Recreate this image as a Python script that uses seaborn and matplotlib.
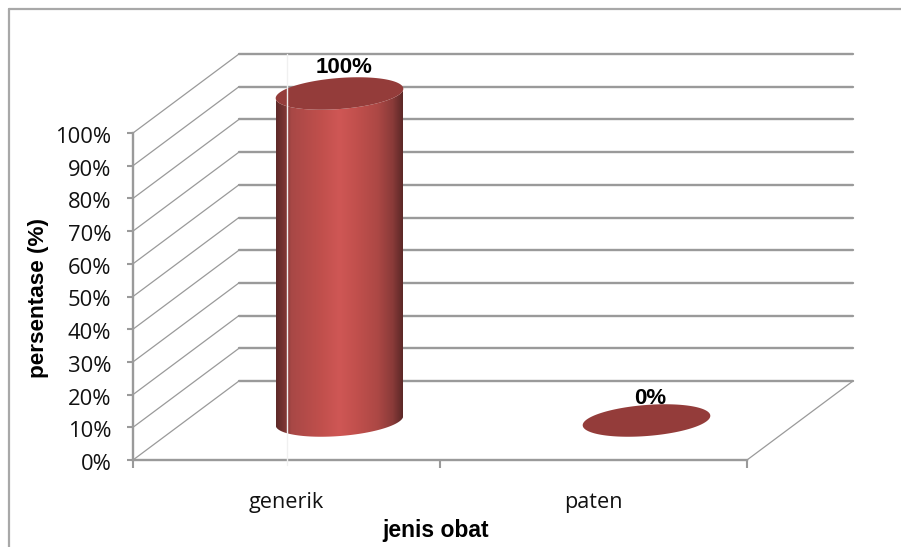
import numpy as np
import matplotlib
matplotlib.use("Agg")
import matplotlib.pyplot as plt
from matplotlib.colors import LinearSegmentedColormap
from matplotlib.lines import Line2D
from matplotlib.patches import Polygon
from matplotlib.transforms import ScaledTranslation
import seaborn as sns

categories = ["generik", "paten"]
percentages = [100, 0]
y_ticks = list(range(0, 101, 10))

W, H = 901, 547
LEFT, RIGHT, TOP, BOTTOM = 133, 747, 133, 460
UX = 2 / (RIGHT - LEFT)      # category units per pixel
UY = 100 / (BOTTOM - TOP)    # percent per pixel
DEPTH_X, DEPTH_Y = 106 * UX, 79 * UY
GRID = "#9a9a9a"
CAP = "#943c3a"

sns.set_style("white")
plt.rcParams["font.family"] = ["Open Sans", "DejaVu Sans"]

fig = plt.figure(figsize=(W / 100, H / 100), dpi=100, facecolor="white")
ax = fig.add_axes([LEFT / W, 1 - BOTTOM / H, (RIGHT - LEFT) / W, (BOTTOM - TOP) / H])
sns.barplot(x=categories, y=percentages, width=127 * UX, color=CAP, ax=ax, zorder=3)
ax.set_xlim(-0.5, 1.5)
ax.set_ylim(0, 100)
ax.set_facecolor("none")

# Back wall gridlines and the diagonals on the side wall
for v in y_ticks:
    ax.plot([-0.5 + DEPTH_X, 1.5 + DEPTH_X], [v + DEPTH_Y] * 2, color=GRID, lw=1.7,
            clip_on=False, zorder=1)
    ax.plot([-0.5, -0.5 + DEPTH_X], [v, v + DEPTH_Y], color=GRID, lw=0.9,
            clip_on=False, zorder=1)
# Right edge of the floor
ax.plot([1.5, 1.5 + DEPTH_X], [0, DEPTH_Y], color=GRID, lw=0.9, clip_on=False, zorder=1)

ramp = LinearSegmentedColormap.from_list(
    "cylinder",
    [(0.0, "#5e2a29"), (0.07, "#7c3533"), (0.12, "#a84846"), (0.35, "#c04f4c"), (0.5, "#cf5755"),
     (0.65, "#c04f4c"), (0.8, "#ad4845"), (0.92, "#8a3b39"), (1.0, "#5c2827")],
)
gradient = np.linspace(0, 1, 256)[None, :]

# Semi-axes and tilt of the elliptical cross-section, in pixels
SEMI_A, SEMI_B, TILT = 64.0, 15.5, np.radians(4.5)


def ellipse_points(cx, cy, t):
    px = SEMI_A * np.cos(t) * np.cos(TILT) - SEMI_B * np.sin(t) * np.sin(TILT)
    py = SEMI_A * np.cos(t) * np.sin(TILT) + SEMI_B * np.sin(t) * np.cos(TILT)
    return np.column_stack([cx + px * UX, cy + py * UY])


t_right = np.arctan(-(SEMI_B / SEMI_A) * np.tan(TILT))
lower_arc = np.linspace(t_right, t_right - np.pi, 80)
full_turn = np.linspace(0, 2 * np.pi, 160)

# Turn each seaborn bar into a cylinder standing mid-way through the depth
for bar in list(ax.patches):
    bar.set_visible(False)
    cx = bar.get_x() + bar.get_width() / 2 + DEPTH_X / 2
    base = DEPTH_Y / 2
    top = base + bar.get_height()
    half = bar.get_width() / 2
    if bar.get_height() > 0:
        body = np.vstack([ellipse_points(cx, base, lower_arc),
                          ellipse_points(cx, top, lower_arc[::-1])])
        clip = Polygon(body, closed=True, transform=ax.transData, facecolor="none", edgecolor="none")
        ax.add_patch(clip)
        img = ax.imshow(gradient, extent=[cx - half, cx + half, base - 10, top + 10], cmap=ramp,
                        aspect="auto", zorder=3)
        img.set_clip_path(clip)
        img.set_clip_box(fig.bbox)
    ax.add_patch(Polygon(ellipse_points(cx, top, full_turn), closed=True, facecolor=CAP,
                         edgecolor="none", clip_on=False, zorder=4))

ax.set_xlim(-0.5, 1.5)
ax.set_ylim(0, 100)

# Pale vertical hairline running through the first category
ax.plot([0, 0], [-5 * UY, 100 + DEPTH_Y], color="#f0f0f0", lw=1.0, clip_on=False, zorder=6)

# Value labels above each cylinder
label_offsets = [(4.5, 26.0), (3.5, 21.5)]
for i, value in enumerate(percentages):
    dx, dy = label_offsets[i]
    ax.annotate(f"{value}%", (i + DEPTH_X / 2, value + DEPTH_Y / 2),
                xytext=(dx * 0.72, dy * 0.72), textcoords="offset points",
                ha="center", va="center", family="Liberation Sans", fontweight="bold",
                fontsize=16, color="black", annotation_clip=False, zorder=7)

# Axes
sns.despine(ax=ax, top=True, right=True)
for side in ("left", "bottom"):
    ax.spines[side].set_color(GRID)
    ax.spines[side].set_linewidth(1.7)
    ax.spines[side].set_zorder(2)

ax.set_yticks(y_ticks)
ax.set_yticklabels([f"{v}%" for v in y_ticks])
ax.set_xticks([-0.5, 0.5, 1.5])
ax.set_xticklabels([])
ax.set_xticks([0, 1], labels=categories, minor=True)
ax.tick_params(axis="y", which="major", left=True, length=4.5, width=1.5, color=GRID,
               labelsize=15.8, labelcolor="#111111", pad=11)
ax.tick_params(axis="x", which="major", bottom=True, length=5.5, width=1.5, color=GRID)
ax.tick_params(axis="x", which="minor", bottom=False, length=0, labelsize=15.6,
               labelcolor="#111111", pad=23)

# Nudge the percent labels down so they sit level with their ticks
nudge = ScaledTranslation(0, -2 / 100, fig.dpi_scale_trans)
for tick_label in ax.get_yticklabels():
    tick_label.set_transform(tick_label.get_transform() + nudge)

ax.set_ylabel("persentase (%)", family="Liberation Sans", fontweight="bold", fontsize=16.2,
              color="black")
ax.yaxis.label.set_verticalalignment("center")
ax.yaxis.set_label_coords((39 - LEFT) / (RIGHT - LEFT), (BOTTOM - 297.5) / (BOTTOM - TOP))
ax.set_xlabel("jenis obat", family="Liberation Sans", fontweight="bold", fontsize=16.5,
              color="black")
ax.xaxis.set_label_coords((435.5 - LEFT) / (RIGHT - LEFT), (BOTTOM - 530) / (BOTTOM - TOP))
ax.xaxis.label.set_verticalalignment("center")

# Outer chart frame: top and left edges
frame = dict(color="#a8a8a8", lw=1.6, transform=fig.transFigure)
fig.add_artist(Line2D([9 / W, 1], [1 - 9 / H] * 2, **frame))
fig.add_artist(Line2D([9 / W] * 2, [0, 1 - 9 / H], **frame))

fig.savefig("out.png", dpi=100, facecolor="white")
